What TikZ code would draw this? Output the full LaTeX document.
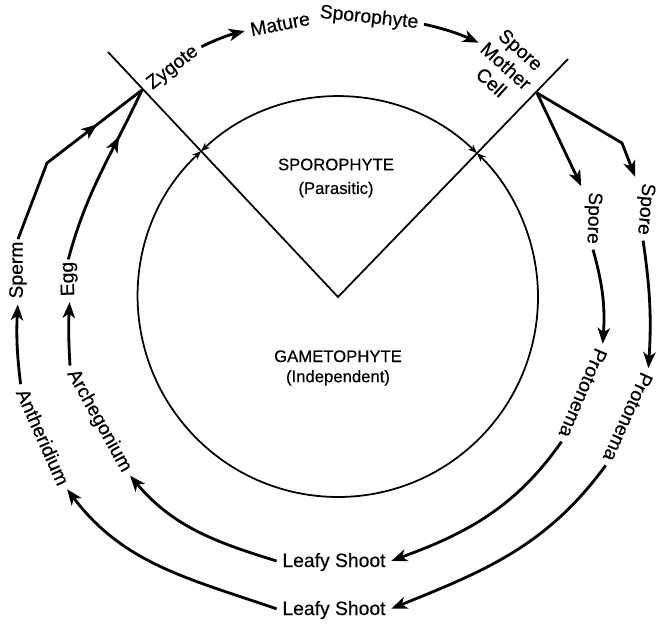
\documentclass[tikz,border=0pt]{standalone}
\usepackage{fontspec}
\setmainfont{Liberation Sans}
\newfontfamily\labelfont{Liberation Sans}[FakeBold=0.4]
\usetikzlibrary{arrows.meta,calc,decorations.markings}

\begin{document}
\begin{tikzpicture}[x=0.02cm,y=0.02cm,
    lbl/.style={font=\labelfont\fontsize{11}{12.5}\selectfont, inner sep=1.2pt},
    midlbl/.style={font=\labelfont\fontsize{9.5}{13.5}\selectfont, align=center},
    ring/.style={line width=1pt},
    ringarrow/.style={line width=1pt, {Stealth[length=5pt,width=4pt,inset=1.5pt]}-{Stealth[length=5pt,width=4pt,inset=1.5pt]}},
    thickline/.style={line width=1.6pt, line join=round},
    flow/.style={thickline, -{Stealth[length=9pt,width=7pt,inset=2.5pt]}, shorten >=2pt, shorten <=2pt},
    midarrow/.style={postaction={decorate}, decoration={markings,
        mark=at position #1 with {\arrow{Stealth[length=9pt,width=7pt,inset=2.5pt]}}}}]

    \useasboundingbox (0,0) rectangle (659,-626);

    % =========================
    % Circle split by the wedge
    % =========================
    \coordinate (v) at (338,-297);
    \coordinate (zl) at (108,-52);
    \coordinate (zr) at (568,-59);
    \coordinate (zy) at (142,-90);
    \coordinate (smc) at (537,-93);
    \coordinate (spcorner) at (47,-163);
    \coordinate (rcorner) at (622,-143);

    \draw[ring] (zl) -- (v) -- (zr);
    % sporophyte part (top) and gametophyte part (rest)
    \draw[ringarrow] ($(v)+(46:200)$) arc[start angle=46, end angle=133.2, radius=200];
    \draw[ringarrow] ($(v)+(133.2:200)$) arc[start angle=133.2, end angle=406, radius=200];

    \node[midlbl] (sporophyte) at (336,-178) {SPOROPHYTE\\(Parasitic)};
    \node[midlbl, font=\labelfont\fontsize{9.5}{11.5}\selectfont] (gametophyte) at (338,-368) {GAMETOPHYTE\\(Independent)};

    % =========================
    % Labels round the circle
    % =========================
    \node[lbl, rotate=38] (zygote) at (173,-68) {Zygote};
    \node[lbl, rotate=11] (mature) at (280,-24) {Mature};
    \node[lbl, rotate=-6] (matsporo) at (369,-18) {Sporophyte};
    \node[lbl, rotate=-42, align=center] (smcell) at (506,-66) {Spore\\Mother\\Cell};
    \node[lbl, rotate=-92] (sporein) at (593,-218) {Spore};
    \node[lbl, rotate=-95] (sporeout) at (645,-209) {Spore};
    \node[lbl, rotate=-113] (protoin) at (583,-393) {Protonema};
    \node[lbl, rotate=-114] (protoout) at (628,-417) {Protonema};
    \node[lbl] (leafyin) at (334,-562) {Leafy Shoot};
    \node[lbl] (leafyout) at (334,-610) {Leafy Shoot};
    \node[lbl, rotate=-61] (archeg) at (99,-421) {Archegonium};
    \node[lbl, rotate=-66] (anther) at (43,-437) {Antheridium};
    \node[lbl, rotate=92] (egg) at (69,-279) {Egg};
    \node[lbl, rotate=90] (sperm) at (18,-270) {Sperm};

    % =========================
    % Connectors
    % =========================
    % top: zygote -> sporophyte -> spore mother cell
    \draw[flow] (zygote.east) to[bend left=6] (mature.west);
    \draw[flow] (matsporo.east) to[bend left=6] (smcell.west);

    % right: spores and protonemata
    \draw[flow, shorten <=0pt] (smc) -- (sporein.south west);
    \draw[flow, shorten <=0pt] (smc) -- (rcorner) -- (sporeout.south west);
    \draw[flow] (sporein.east) to[bend left=10] (protoin.west);
    \draw[flow] (sporeout.east) to[bend left=6] (protoout.west);
    \draw[flow] (protoin.east) to[out=-125,in=20] (leafyin.east);
    \draw[flow] (protoout.east) to[out=-126,in=22] (leafyout.east);

    % left: leafy shoots back to the zygote
    \draw[flow] (leafyin.west) to[out=163,in=-50] (archeg.east);
    \draw[flow] (leafyout.west) to[out=161,in=-53] (anther.east);
    \draw[flow] (archeg.west) to[bend left=3] (egg.west);
    \draw[flow] (anther.west) to[bend left=5] (sperm.west);
    \draw[thickline, midarrow=0.72] (egg.east) to[out=75,in=-115] (zy);
    \draw[thickline, midarrow=0.72] (sperm.east) -- (spcorner) -- (zy);

\end{tikzpicture}
\end{document}
